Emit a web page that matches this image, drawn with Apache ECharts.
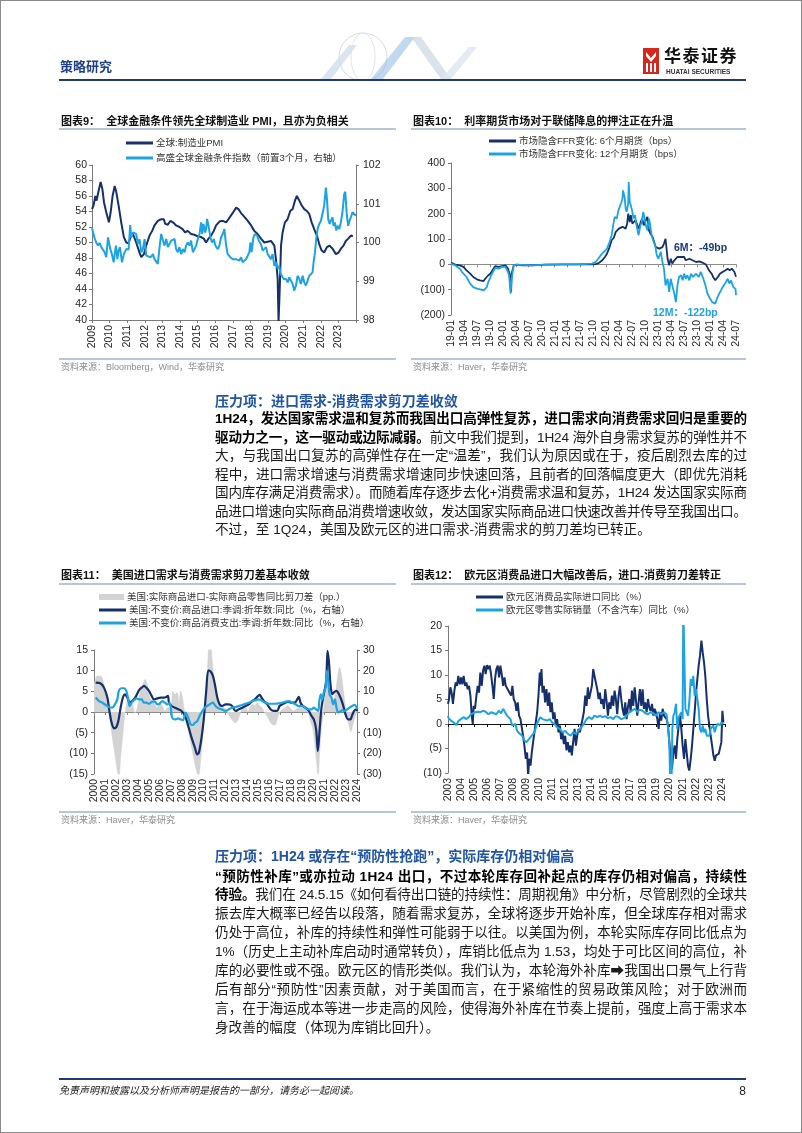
<!DOCTYPE html>
<html><head><meta charset="utf-8">
<script src="https://cdn.jsdelivr.net/npm/echarts/dist/echarts.min.js"></script>
<style>
html,body{margin:0;padding:0;background:#fff;}
#page{position:relative;width:802px;height:1133px;overflow:hidden;box-sizing:border-box;border:1px solid #8a8a8a;font-family:"Liberation Sans","Noto Sans CJK SC","DejaVu Sans",sans-serif;}
#chart{position:absolute;left:0;top:0;width:802px;height:1133px;}
.abs{position:absolute;white-space:nowrap;}
.ttl{font-size:11px;font-weight:bold;color:#111;line-height:14px;}
.rule{position:absolute;height:1.5px;background:#b7c5da;}
.src{font-size:9px;color:#8c8c8c;line-height:12px;}
.hd{font-size:14px;font-weight:bold;color:#1f54a6;line-height:18px;}
.jl{position:absolute;left:214px;width:532px;font-size:13.6px;line-height:18.5px;color:#1a1a1a;white-space:nowrap;}
.jl b{color:#000;}
</style></head>
<body>
<div id="page">
<div id="chart"></div>

<!-- header -->
<svg class="abs" style="left:300px;top:30px" width="220" height="50">
 <circle cx="62" cy="26" r="24" fill="none" stroke="#d5dbe3" stroke-width="1"/>
 <ellipse cx="62" cy="26" rx="12" ry="24" fill="none" stroke="#e0e5ec" stroke-width="1"/>
 <polygon points="20,48 48,14 56,14 30,48" fill="#cfdff0" opacity="0.8"/>
 <polygon points="70,48 104,6 114,6 82,48" fill="#8fb8e2" opacity="0.55"/>
 <polygon points="110,6 120,6 150,48 140,48" fill="#c2d0e0" opacity="0.6"/>
 <polygon points="140,48 168,16 176,16 150,48" fill="#dfe6ee" opacity="0.8"/>
</svg>
<div class="abs" style="left:59px;top:57px;font-size:13px;font-weight:bold;color:#1f3f86;line-height:18px;">策略研究</div>
<svg class="abs" style="left:642px;top:47px" width="16" height="26">
 <rect x="0" y="0" width="16" height="26" fill="#d7261e"/>
 <polygon points="3,4 8,10 13,4 13,8 8,14 3,8" fill="#fff"/>
 <rect x="3" y="15" width="2" height="9" fill="#fff"/><rect x="7" y="15" width="2" height="9" fill="#fff"/><rect x="11" y="15" width="2" height="9" fill="#fff"/>
</svg>
<div class="abs" style="left:663px;top:46px;font-size:17px;font-weight:bold;color:#111;letter-spacing:1.5px;line-height:20px;">华泰证券</div>
<div class="abs" style="left:665px;top:67px;font-size:6.5px;font-weight:bold;color:#333;line-height:8px;">HUATAI SECURITIES</div>
<div class="abs" style="left:58px;top:78px;width:687px;height:2px;background:#1f3a70;"></div>

<!-- chart titles / rules / sources -->
<div class="abs ttl" style="left:60px;top:113px;">图表9：&nbsp;&nbsp;全球金融条件领先全球制造业 PMI，且亦为负相关</div>
<div class="rule" style="left:58px;top:127px;width:337px;"></div>
<div class="abs ttl" style="left:412px;top:113px;">图表10：&nbsp;&nbsp;利率期货市场对于联储降息的押注正在升温</div>
<div class="rule" style="left:410px;top:127px;width:335px;"></div>
<div class="rule" style="left:58px;top:357px;width:337px;"></div>
<div class="abs src" style="left:60px;top:360px;">资料来源：Bloomberg，Wind，华泰研究</div>
<div class="rule" style="left:410px;top:357px;width:335px;"></div>
<div class="abs src" style="left:412px;top:360px;">资料来源：Haver，华泰研究</div>

<div class="abs ttl" style="left:60px;top:567px;">图表11：&nbsp;&nbsp;美国进口需求与消费需求剪刀差基本收敛</div>
<div class="rule" style="left:58px;top:582px;width:337px;"></div>
<div class="abs ttl" style="left:412px;top:567px;">图表12：&nbsp;&nbsp;欧元区消费品进口大幅改善后，进口-消费剪刀差转正</div>
<div class="rule" style="left:410px;top:582px;width:335px;"></div>
<div class="rule" style="left:58px;top:810px;width:337px;"></div>
<div class="abs src" style="left:60px;top:813px;">资料来源：Haver，华泰研究</div>
<div class="rule" style="left:410px;top:810px;width:335px;"></div>
<div class="abs src" style="left:412px;top:813px;">资料来源：Haver，华泰研究</div>

<!-- paragraph 1 -->
<div class="abs hd" style="left:214px;top:391px;">压力项：进口需求-消费需求剪刀差收敛</div>
<div class="jl j" style="top:409px;"><span class="t"><b>1H24，发达国家需求温和复苏而我国出口高弹性复苏，进口需求向消费需求回归是重要的</b></span></div>
<div class="jl j" style="top:427.5px;"><span class="t"><b>驱动力之一，这一驱动或边际减弱。</b>前文中我们提到，1H24 海外自身需求复苏的弹性并不</span></div>
<div class="jl j" style="top:446px;"><span class="t">大，与我国出口复苏的高弹性存在一定“温差”，我们认为原因或在于，疫后剧烈去库的过</span></div>
<div class="jl j" style="top:464.5px;"><span class="t">程中，进口需求增速与消费需求增速同步快速回落，且前者的回落幅度更大（即优先消耗</span></div>
<div class="jl j" style="top:483px;"><span class="t">国内库存满足消费需求）。而随着库存逐步去化+消费需求温和复苏，1H24 发达国家实际商</span></div>
<div class="jl j" style="top:501.5px;"><span class="t">品进口增速向实际商品消费增速收敛，发达国家实际商品进口快速改善并传导至我国出口。</span></div>
<div class="jl" style="top:520px;"><span class="t">不过，至 1Q24，美国及欧元区的进口需求-消费需求的剪刀差均已转正。</span></div>

<!-- paragraph 2 -->
<div class="abs hd" style="left:214px;top:846px;">压力项：1H24 或存在“预防性抢跑”，实际库存仍相对偏高</div>
<div class="jl j" style="top:866.5px;"><span class="t"><b>“预防性补库”或亦拉动 1H24 出口，不过本轮库存回补起点的库存仍相对偏高，持续性</b></span></div>
<div class="jl j" style="top:885.4px;"><span class="t"><b>待验。</b>我们在 24.5.15《如何看待出口链的持续性：周期视角》中分析，尽管剧烈的全球共</span></div>
<div class="jl j" style="top:904.3px;"><span class="t">振去库大概率已经告以段落，随着需求复苏，全球将逐步开始补库，但全球库存相对需求</span></div>
<div class="jl j" style="top:923.2px;"><span class="t">仍处于高位，补库的持续性和弹性可能弱于以往。以美国为例，本轮实际库存同比低点为</span></div>
<div class="jl j" style="top:942.1px;"><span class="t">1%（历史上主动补库启动时通常转负），库销比低点为 1.53，均处于可比区间的高位，补</span></div>
<div class="jl j" style="top:961px;"><span class="t">库的必要性或不强。欧元区的情形类似。我们认为，本轮海外补库➡我国出口景气上行背</span></div>
<div class="jl j" style="top:979.9px;"><span class="t">后有部分“预防性”因素贡献，对于美国而言，在于紧缩性的贸易政策风险；对于欧洲而</span></div>
<div class="jl j" style="top:998.8px;"><span class="t">言，在于海运成本等进一步走高的风险，使得海外补库在节奏上提前，强度上高于需求本</span></div>
<div class="jl" style="top:1017.7px;"><span class="t">身改善的幅度（体现为库销比回升）。</span></div>

<!-- footer -->
<div class="abs" style="left:58px;top:1077px;width:687px;height:2px;background:#1f3a70;"></div>
<div class="abs" style="left:58px;top:1083px;font-size:10px;font-style:italic;color:#222;line-height:14px;">免责声明和披露以及分析师声明是报告的一部分，请务必一起阅读。</div>
<div class="abs" style="left:735px;top:1082px;width:10px;text-align:right;font-size:12px;color:#222;line-height:16px;">8</div>
</div>

<script>
// ---------- Chart 9: global PMI vs GS financial conditions (x = decimal year) ----------
const pmi = [[2009.00,54.3],[2009.09,54.8],[2009.19,56.0],[2009.26,55.4],[2009.38,56.7],[2009.49,57.8],[2009.59,56.9],[2009.68,55.2],[2009.81,53.9],[2009.96,52.6],[2010.06,53.9],[2010.17,56.0],[2010.29,57.3],[2010.38,56.5],[2010.51,54.8],[2010.66,52.6],[2010.81,50.7],[2010.95,50.0],[2011.08,49.9],[2011.19,50.7],[2011.33,51.1],[2011.51,50.0],[2011.70,48.7],[2011.80,48.1],[2011.95,48.5],[2012.08,49.6],[2012.27,50.9],[2012.42,51.5],[2012.55,52.2],[2012.74,52.8],[2012.93,53.0],[2013.08,53.0],[2013.16,52.4],[2013.31,52.3],[2013.46,52.8],[2013.65,52.5],[2013.78,52.2],[2013.97,52.0],[2014.16,51.7],[2014.29,51.3],[2014.44,51.5],[2014.63,51.1],[2014.82,51.0],[2015.01,50.8],[2015.20,50.7],[2015.35,50.5],[2015.48,50.0],[2015.62,50.5],[2015.77,50.9],[2015.92,51.5],[2016.05,52.2],[2016.24,52.7],[2016.43,52.8],[2016.62,52.6],[2016.75,53.0],[2016.90,53.5],[2017.05,54.0],[2017.19,54.5],[2017.32,54.3],[2017.47,53.8],[2017.66,53.3],[2017.85,52.8],[2018.04,52.2],[2018.22,51.5],[2018.41,51.1],[2018.60,50.5],[2018.79,50.0],[2018.98,50.1],[2019.17,50.2],[2019.36,49.6],[2019.45,47.9],[2019.55,45.3],[2019.60,39.8],[2019.66,43.6],[2019.74,49.6],[2019.83,51.3],[2019.96,52.6],[2020.11,53.0],[2020.27,54.1],[2020.40,54.3],[2020.53,55.4],[2020.64,56.0],[2020.78,55.4],[2020.91,54.8],[2021.06,54.3],[2021.19,54.1],[2021.34,53.7],[2021.48,52.6],[2021.63,51.7],[2021.78,50.9],[2021.91,49.8],[2022.04,49.0],[2022.19,48.7],[2022.35,49.4],[2022.50,49.6],[2022.67,49.2],[2022.86,48.5],[2023.01,48.7],[2023.14,49.2],[2023.29,49.6],[2023.42,50.2],[2023.56,50.5],[2023.71,50.9],[2023.82,50.8]];
const gsfci = [[2009.00,100.37],[2009.06,100.33],[2009.15,100.11],[2009.25,99.99],[2009.34,99.92],[2009.43,99.99],[2009.53,99.88],[2009.62,99.92],[2009.72,99.75],[2009.81,99.62],[2009.91,100.13],[2009.96,100.18],[2010.04,99.83],[2010.13,99.70],[2010.23,99.49],[2010.29,99.70],[2010.36,99.92],[2010.44,99.57],[2010.51,99.79],[2010.59,99.88],[2010.70,99.49],[2010.81,99.70],[2010.95,99.83],[2011.08,99.82],[2011.17,100.45],[2011.23,100.13],[2011.33,100.26],[2011.42,100.28],[2011.51,100.22],[2011.61,99.96],[2011.70,100.09],[2011.80,99.75],[2011.89,99.83],[2011.99,100.09],[2012.08,99.66],[2012.18,99.70],[2012.33,99.62],[2012.46,99.70],[2012.55,99.57],[2012.65,99.62],[2012.74,99.45],[2012.84,99.88],[2012.93,100.22],[2013.03,100.05],[2013.12,99.92],[2013.22,100.09],[2013.31,99.88],[2013.40,99.92],[2013.50,100.05],[2013.59,100.00],[2013.69,100.09],[2013.78,99.83],[2013.88,99.75],[2013.97,99.88],[2014.07,99.70],[2014.16,99.83],[2014.26,99.75],[2014.35,99.92],[2014.44,100.00],[2014.54,99.92],[2014.63,100.05],[2014.73,99.75],[2014.82,99.83],[2014.92,99.92],[2015.01,100.09],[2015.11,100.22],[2015.20,100.52],[2015.26,100.22],[2015.33,100.48],[2015.43,100.26],[2015.48,100.35],[2015.54,100.61],[2015.62,100.43],[2015.73,100.13],[2015.82,100.00],[2015.92,100.09],[2016.01,99.92],[2016.15,99.83],[2016.24,99.92],[2016.33,100.13],[2016.43,100.22],[2016.52,100.35],[2016.62,99.92],[2016.71,99.70],[2016.86,99.62],[2017.00,99.57],[2017.09,99.62],[2017.19,99.57],[2017.28,99.59],[2017.37,99.53],[2017.47,99.62],[2017.56,99.49],[2017.66,99.45],[2017.75,99.57],[2017.85,99.66],[2017.94,99.75],[2018.00,100.00],[2018.07,99.75],[2018.17,100.13],[2018.26,100.22],[2018.38,100.18],[2018.47,100.05],[2018.60,99.96],[2018.70,99.79],[2018.79,99.75],[2018.89,99.88],[2018.98,99.70],[2019.08,99.75],[2019.17,99.57],[2019.26,99.70],[2019.36,99.40],[2019.45,99.49],[2019.55,99.32],[2019.64,99.40],[2019.70,99.23],[2019.78,99.14],[2019.89,99.06],[2020.02,99.06],[2020.12,98.97],[2020.21,99.10],[2020.30,99.06],[2020.40,98.93],[2020.49,98.76],[2020.59,98.89],[2020.68,99.14],[2020.78,99.06],[2020.87,98.93],[2020.97,99.14],[2021.06,98.97],[2021.15,98.89],[2021.25,99.01],[2021.34,99.14],[2021.44,99.13],[2021.53,99.23],[2021.59,99.49],[2021.67,99.75],[2021.74,100.09],[2021.82,100.35],[2021.91,100.48],[2022.01,100.56],[2022.10,100.52],[2022.19,100.95],[2022.29,101.42],[2022.35,101.12],[2022.42,100.61],[2022.50,100.48],[2022.57,100.56],[2022.67,100.65],[2022.72,100.43],[2022.80,100.52],[2022.88,100.31],[2022.95,100.43],[2023.05,100.35],[2023.14,100.52],[2023.23,100.78],[2023.33,101.25],[2023.39,101.31],[2023.48,100.69],[2023.56,100.43],[2023.63,100.56],[2023.71,100.65],[2023.80,100.78],[2023.90,100.74],[2024.00,100.69]];

// ---------- Chart 10: implied FFR change, bps ----------
const ffr6m = [[2019.00,7],[2019.08,-1],[2019.17,-4],[2019.24,-10],[2019.30,-24],[2019.37,-37],[2019.43,-50],[2019.50,-59],[2019.56,-63],[2019.63,-66],[2019.66,-57],[2019.69,-59],[2019.72,-43],[2019.76,-37],[2019.82,-17],[2019.85,-7],[2019.92,-10],[2019.98,-7],[2020.05,-4],[2020.10,-17],[2020.13,-37],[2020.16,-109],[2020.17,-37],[2020.21,-4],[2020.27,-1],[2020.37,-4],[2020.56,-4],[2020.82,-1],[2021.14,0],[2021.47,0],[2021.72,0],[2021.79,1],[2021.85,5],[2021.92,16],[2021.97,29],[2022.01,42],[2022.06,68],[2022.10,95],[2022.14,104],[2022.18,128],[2022.21,121],[2022.24,141],[2022.27,134],[2022.31,148],[2022.34,154],[2022.37,141],[2022.40,161],[2022.42,200],[2022.45,167],[2022.47,194],[2022.50,161],[2022.53,154],[2022.56,174],[2022.60,154],[2022.63,141],[2022.66,167],[2022.69,180],[2022.72,154],[2022.76,174],[2022.79,187],[2022.82,134],[2022.85,121],[2022.89,108],[2022.92,101],[2022.95,68],[2022.98,75],[2023.02,62],[2023.05,55],[2023.08,68],[2023.11,82],[2023.14,101],[2023.16,108],[2023.18,22],[2023.21,-4],[2023.24,22],[2023.27,3],[2023.31,16],[2023.34,22],[2023.37,29],[2023.40,22],[2023.44,29],[2023.47,36],[2023.50,29],[2023.53,16],[2023.60,22],[2023.66,16],[2023.73,9],[2023.79,12],[2023.85,7],[2023.92,-1],[2023.98,-24],[2024.03,-37],[2024.06,-50],[2024.10,-63],[2024.15,-50],[2024.19,-37],[2024.24,-30],[2024.29,-24],[2024.34,-17],[2024.38,-24],[2024.42,-17],[2024.47,-30],[2024.50,-49]];
const ffr12m = [[2019.00,3],[2019.08,-4],[2019.17,-17],[2019.21,-30],[2019.24,-24],[2019.30,-50],[2019.37,-76],[2019.43,-90],[2019.50,-96],[2019.56,-99],[2019.63,-103],[2019.66,-109],[2019.69,-90],[2019.72,-70],[2019.79,-37],[2019.85,-15],[2019.92,-17],[2019.98,-10],[2020.05,-10],[2020.10,-30],[2020.12,-43],[2020.15,-116],[2020.17,-57],[2020.21,-4],[2020.27,-1],[2020.56,-4],[2020.82,-1],[2021.47,0],[2021.72,3],[2021.79,9],[2021.84,22],[2021.89,36],[2021.95,49],[2022.01,62],[2022.06,88],[2022.10,115],[2022.13,154],[2022.16,187],[2022.20,181],[2022.23,213],[2022.25,207],[2022.29,246],[2022.31,260],[2022.32,292],[2022.35,266],[2022.37,220],[2022.39,207],[2022.42,240],[2022.43,325],[2022.45,246],[2022.47,233],[2022.50,207],[2022.52,181],[2022.55,194],[2022.58,154],[2022.62,115],[2022.65,148],[2022.68,167],[2022.71,207],[2022.73,187],[2022.76,154],[2022.79,134],[2022.82,181],[2022.84,161],[2022.87,115],[2022.90,95],[2022.94,75],[2022.97,36],[2023.00,22],[2023.05,49],[2023.08,9],[2023.11,-17],[2023.14,-83],[2023.18,-57],[2023.21,-109],[2023.24,-57],[2023.27,-83],[2023.31,-116],[2023.34,-149],[2023.37,-83],[2023.40,-50],[2023.44,-43],[2023.47,-63],[2023.50,-37],[2023.53,-57],[2023.56,-43],[2023.60,-63],[2023.63,-37],[2023.67,-50],[2023.73,-37],[2023.78,-50],[2023.82,-30],[2023.87,-57],[2023.91,-83],[2023.95,-116],[2024.00,-136],[2024.04,-149],[2024.07,-142],[2024.10,-155],[2024.13,-136],[2024.16,-122],[2024.21,-103],[2024.24,-90],[2024.29,-76],[2024.34,-57],[2024.37,-76],[2024.40,-63],[2024.45,-90],[2024.49,-96],[2024.50,-122]];

// ---------- Chart 11: US import vs consumption ----------
const usGap = [[2000.00,6.7],[2000.30,8.7],[2000.61,8.7],[2000.91,6.7],[2001.22,3.1],[2001.43,-1.4],[2001.67,-6.2],[2001.91,-10.3],[2002.13,-14.3],[2002.28,-16],[2002.43,-11.0],[2002.64,-5.4],[2002.83,-0.2],[2003.04,2.7],[2003.25,3.1],[2003.50,1.9],[2003.74,-0.2],[2003.95,1.0],[2004.16,4.3],[2004.41,6.3],[2004.65,7.9],[2004.86,6.7],[2005.08,3.5],[2005.32,2.7],[2005.56,1.9],[2005.78,1.0],[2005.99,2.3],[2006.23,1.5],[2006.47,0.2],[2006.69,1.0],[2006.99,1.0],[2007.20,5.1],[2007.39,4.3],[2007.60,4.7],[2007.75,2.3],[2007.90,5.1],[2008.05,3.9],[2008.21,1.0],[2008.42,-1.8],[2008.66,-5.4],[2008.91,-8.6],[2009.12,-11.5],[2009.33,-13.9],[2009.51,-16],[2009.73,-11.9],[2009.94,-5.4],[2010.12,1.0],[2010.33,8.3],[2010.49,16],[2010.64,16],[2010.79,12.4],[2010.94,8.3],[2011.16,4.3],[2011.40,2.3],[2011.64,1.5],[2011.85,1.0],[2012.07,0.6],[2012.25,-0.6],[2012.46,-1.4],[2012.67,-2.2],[2012.92,-2.6],[2013.16,-1.8],[2013.37,-0.2],[2013.59,1.5],[2013.83,1.0],[2014.07,0.2],[2014.29,1.5],[2014.50,1.9],[2014.68,1.5],[2014.89,2.3],[2015.11,1.5],[2015.35,1.0],[2015.59,-0.2],[2015.81,-1.0],[2016.02,-2.2],[2016.26,-3.0],[2016.50,-3.2],[2016.72,-1.8],[2016.93,-0.2],[2017.17,0.6],[2017.42,1.0],[2017.66,1.5],[2017.93,1.0],[2018.15,0.2],[2018.39,0.6],[2018.63,1.0],[2018.85,1.9],[2019.06,1.5],[2019.30,0.6],[2019.54,-0.2],[2019.76,-2.2],[2019.97,-4.2],[2020.15,-7.8],[2020.33,-12.7],[2020.46,-16],[2020.58,-10.3],[2020.76,-3.8],[2020.97,1.0],[2021.13,6.7],[2021.28,12.4],[2021.43,9.9],[2021.58,5.9],[2021.73,3.5],[2021.88,2.7],[2022.10,5.9],[2022.28,9.5],[2022.40,10.8],[2022.58,9.1],[2022.80,4.3],[2023.01,0.2],[2023.25,-3.0],[2023.45,-4.8],[2023.62,-3.0],[2023.80,-1.4],[2024.01,0.2]];
const usImport = [[2000.15,14.2],[2000.61,13.8],[2000.91,11.8],[2001.22,7.0],[2001.43,-0.3],[2001.61,-5.2],[2001.82,-7.9],[2002.04,-7.3],[2002.22,-4.4],[2002.43,2.1],[2002.64,7.0],[2002.83,8.6],[2003.04,7.0],[2003.25,4.5],[2003.50,5.3],[2003.80,7.3],[2004.10,10.5],[2004.35,11.8],[2004.56,12.6],[2004.77,11.8],[2005.02,10.2],[2005.26,7.8],[2005.47,6.1],[2005.78,6.6],[2006.08,7.0],[2006.38,7.0],[2006.60,7.3],[2006.75,7.8],[2006.84,4.5],[2007.08,2.9],[2007.39,2.1],[2007.69,1.3],[2007.99,0.5],[2008.30,-1.9],[2008.60,-6.8],[2008.91,-12.5],[2009.21,-17.3],[2009.42,-20.5],[2009.57,-19.7],[2009.81,-12.5],[2010.03,-2.8],[2010.24,10.2],[2010.43,20.2],[2010.64,19.6],[2010.85,17.5],[2011.03,13.4],[2011.25,7.0],[2011.46,3.7],[2011.70,2.9],[2012.01,3.7],[2012.31,3.7],[2012.61,2.9],[2012.92,0.5],[2013.22,1.3],[2013.53,2.1],[2013.83,2.9],[2014.13,3.7],[2014.44,5.3],[2014.68,6.1],[2014.89,7.3],[2015.11,8.3],[2015.29,7.0],[2015.50,5.3],[2015.81,3.7],[2016.11,1.3],[2016.41,0.5],[2016.72,0.5],[2016.93,2.9],[2017.17,3.7],[2017.48,4.5],[2017.72,5.0],[2018.02,4.5],[2018.33,4.5],[2018.54,6.1],[2018.69,7.3],[2018.85,4.5],[2019.06,2.9],[2019.30,2.1],[2019.60,0.5],[2019.85,-1.9],[2020.06,-3.6],[2020.27,-8.4],[2020.43,-18.9],[2020.58,-9.2],[2020.76,2.1],[2020.97,8.6],[2021.19,15.0],[2021.31,29.6],[2021.43,24.8],[2021.58,13.4],[2021.74,8.6],[2021.88,9.4],[2022.10,10.2],[2022.28,9.4],[2022.49,7.0],[2022.71,3.7],[2022.95,-1.1],[2023.19,-3.6],[2023.40,-3.6],[2023.56,-1.5],[2023.74,0.5],[2023.92,1.3],[2024.04,0.5]];
const usConsume = [[2000.15,7.0],[2000.46,5.3],[2000.76,4.5],[2001.06,3.4],[2001.37,2.4],[2001.67,2.1],[2001.91,3.7],[2002.13,6.1],[2002.28,10.5],[2002.52,11.5],[2002.74,11.5],[2002.95,10.2],[2003.13,6.1],[2003.25,2.9],[2003.43,4.5],[2003.65,5.7],[2003.86,6.6],[2004.10,6.1],[2004.35,6.1],[2004.56,4.5],[2004.77,4.5],[2005.02,4.0],[2005.32,5.0],[2005.56,5.0],[2005.78,3.7],[2005.99,4.0],[2006.23,5.3],[2006.47,4.5],[2006.69,3.7],[2006.90,4.5],[2007.14,-2.8],[2007.39,-3.6],[2007.69,-3.1],[2007.90,-3.6],[2008.12,-4.0],[2008.36,-0.3],[2008.60,-2.8],[2008.81,-6.0],[2009.03,-6.3],[2009.21,-5.2],[2009.42,-4.4],[2009.64,-1.9],[2009.88,0.5],[2010.12,2.1],[2010.33,2.9],[2010.64,4.0],[2010.85,4.5],[2011.09,2.9],[2011.34,1.8],[2011.64,1.3],[2012.01,0.5],[2012.31,1.3],[2012.61,2.1],[2012.92,2.4],[2013.22,2.9],[2013.53,3.4],[2013.83,4.0],[2014.13,4.5],[2014.44,5.3],[2014.74,5.7],[2015.05,6.1],[2015.35,5.3],[2015.65,4.5],[2015.96,4.0],[2016.26,4.0],[2016.57,4.0],[2016.87,4.2],[2017.17,4.5],[2017.48,5.0],[2017.78,5.3],[2018.09,4.5],[2018.39,3.7],[2018.69,2.9],[2019.00,2.9],[2019.30,2.1],[2019.60,1.3],[2019.85,1.3],[2020.06,2.1],[2020.27,1.3],[2020.46,0.5],[2020.58,6.1],[2020.70,8.6],[2020.82,6.1],[2020.97,9.4],[2021.12,11.8],[2021.25,19.9],[2021.37,15.0],[2021.49,8.6],[2021.67,7.0],[2021.82,3.7],[2021.98,6.1],[2022.13,2.1],[2022.28,-0.3],[2022.43,0.2],[2022.64,0.8],[2022.89,0.5],[2023.10,1.3],[2023.31,2.1],[2023.56,2.9],[2023.77,3.4],[2023.95,2.4],[2024.04,1.3]];

// ---------- Chart 12: euro area imports vs retail ----------
const euImport = [[2003.00,4.1],[2003.08,5.1],[2003.18,7.5],[2003.28,6.4],[2003.38,4.1],[2003.49,6.8],[2003.59,8.5],[2003.69,7.8],[2003.79,9.8],[2003.90,8.1],[2004.00,9.5],[2004.10,8.1],[2004.20,9.8],[2004.31,7.8],[2004.41,8.5],[2004.51,7.1],[2004.61,7.8],[2004.72,5.8],[2004.82,1.7],[2004.90,0.0],[2004.97,3.7],[2005.07,3.1],[2005.18,5.8],[2005.28,7.8],[2005.38,6.4],[2005.48,10.5],[2005.59,7.8],[2005.69,10.9],[2005.79,11.9],[2005.89,10.2],[2005.99,12.0],[2006.10,11.2],[2006.20,11.9],[2006.30,10.2],[2006.41,7.8],[2006.51,5.1],[2006.61,9.2],[2006.71,11.2],[2006.82,11.9],[2006.92,9.5],[2007.02,11.9],[2007.12,10.2],[2007.23,7.8],[2007.33,9.5],[2007.43,7.8],[2007.53,8.1],[2007.64,6.8],[2007.74,7.1],[2007.84,5.8],[2007.94,7.8],[2008.04,5.1],[2008.15,4.4],[2008.25,2.7],[2008.35,4.4],[2008.45,1.7],[2008.56,1.0],[2008.66,-0.7],[2008.76,-2.4],[2008.86,-4.4],[2008.97,-7.1],[2009.07,-5.8],[2009.15,-10.8],[2009.22,-7.1],[2009.33,-8.5],[2009.43,-5.8],[2009.53,-3.7],[2009.63,-1.7],[2009.73,0.3],[2009.84,2.4],[2009.94,5.8],[2010.04,10.5],[2010.09,7.8],[2010.17,11.2],[2010.25,6.4],[2010.35,7.8],[2010.45,4.4],[2010.55,7.1],[2010.66,3.7],[2010.76,6.4],[2010.86,2.4],[2010.96,4.4],[2011.07,1.0],[2011.17,2.4],[2011.27,-0.3],[2011.37,1.0],[2011.48,-1.7],[2011.58,-0.3],[2011.68,-3.1],[2011.78,-1.7],[2011.89,-4.1],[2011.99,-2.4],[2012.09,-5.4],[2012.19,-3.7],[2012.30,-5.8],[2012.40,-4.4],[2012.50,-6.4],[2012.60,-3.7],[2012.71,-1.0],[2012.81,-4.4],[2012.91,-2.4],[2013.01,-1.0],[2013.12,-1.7],[2013.22,-0.3],[2013.32,1.0],[2013.42,2.4],[2013.53,5.8],[2013.63,3.7],[2013.73,7.5],[2013.83,5.1],[2013.93,6.4],[2014.04,7.8],[2014.14,11.2],[2014.24,9.8],[2014.34,8.5],[2014.45,7.1],[2014.55,5.1],[2014.65,6.4],[2014.75,4.1],[2014.86,5.1],[2014.96,3.1],[2015.06,7.1],[2015.16,4.8],[2015.27,1.7],[2015.37,4.4],[2015.47,3.1],[2015.57,5.8],[2015.68,3.7],[2015.78,6.8],[2015.88,5.1],[2015.98,2.0],[2016.09,5.8],[2016.19,7.8],[2016.29,5.1],[2016.39,3.1],[2016.50,1.7],[2016.60,4.4],[2016.70,1.0],[2016.80,3.4],[2016.91,5.1],[2017.01,2.4],[2017.11,6.8],[2017.21,3.7],[2017.32,7.5],[2017.42,4.8],[2017.52,1.7],[2017.62,4.4],[2017.72,7.1],[2017.83,3.7],[2017.93,7.1],[2018.03,3.1],[2018.13,4.4],[2018.24,2.4],[2018.34,5.1],[2018.44,3.4],[2018.54,2.7],[2018.65,4.1],[2018.75,1.7],[2018.85,3.1],[2018.95,2.4],[2019.06,1.0],[2019.16,-1.0],[2019.26,2.4],[2019.36,0.7],[2019.47,3.1],[2019.57,1.7],[2019.67,2.0],[2019.77,1.0],[2019.88,-0.3],[2019.98,-3.7],[2020.08,-7.1],[2020.18,-9.2],[2020.29,-5.8],[2020.39,-4.4],[2020.49,-7.1],[2020.59,-3.1],[2020.70,-0.3],[2020.80,1.7],[2020.90,-1.0],[2021.00,-4.4],[2021.11,-7.1],[2021.21,-3.1],[2021.31,-5.8],[2021.41,-8.5],[2021.51,-9.5],[2021.62,-7.1],[2021.72,-4.4],[2021.82,-1.0],[2021.92,2.4],[2022.03,6.4],[2022.13,9.2],[2022.23,11.9],[2022.33,13.9],[2022.44,17.0],[2022.54,14.6],[2022.64,12.6],[2022.74,9.8],[2022.85,5.1],[2022.95,1.7],[2023.05,-0.3],[2023.15,-2.4],[2023.26,-4.4],[2023.36,-6.4],[2023.46,-7.5],[2023.56,-6.4],[2023.67,-6.8],[2023.77,-6.1],[2023.87,-6.4],[2023.97,-3.7],[2024.05,2.7],[2024.13,0.3]];
const euRetail = [[2003.00,1.7],[2003.05,1.2],[2003.23,0.7],[2003.44,0.3],[2003.64,-0.2],[2003.82,0.7],[2004.00,1.0],[2004.20,1.4],[2004.41,1.0],[2004.59,1.4],[2004.77,2.0],[2004.92,2.2],[2005.10,2.4],[2005.28,2.5],[2005.48,2.4],[2005.69,2.7],[2005.89,2.5],[2006.10,2.0],[2006.30,2.4],[2006.51,2.2],[2006.71,2.0],[2006.89,2.7],[2007.07,2.2],[2007.23,3.1],[2007.38,2.4],[2007.53,1.7],[2007.66,2.0],[2007.79,1.0],[2007.92,-0.3],[2008.04,-0.7],[2008.17,0.0],[2008.30,-1.4],[2008.51,-2.0],[2008.69,-2.4],[2008.86,-3.4],[2009.02,-3.7],[2009.17,-3.4],[2009.33,-2.7],[2009.48,-2.4],[2009.63,-1.7],[2009.79,-0.3],[2009.94,0.7],[2010.09,1.4],[2010.25,1.0],[2010.40,1.2],[2010.61,0.7],[2010.81,1.0],[2010.99,0.3],[2011.17,0.0],[2011.37,-0.7],[2011.58,-1.0],[2011.78,-1.7],[2011.99,-1.4],[2012.19,-2.0],[2012.40,-2.4],[2012.60,-1.7],[2012.81,-2.0],[2013.01,-1.4],[2013.22,-0.7],[2013.42,0.0],[2013.63,1.0],[2013.83,1.4],[2014.04,1.0],[2014.24,1.7],[2014.45,1.4],[2014.65,1.7],[2014.86,1.4],[2015.06,1.6],[2015.27,1.2],[2015.47,1.4],[2015.68,1.0],[2015.88,1.6],[2016.09,1.4],[2016.29,1.0],[2016.50,1.2],[2016.70,1.7],[2016.91,2.4],[2017.11,2.7],[2017.32,3.1],[2017.52,2.5],[2017.72,2.9],[2017.93,2.7],[2018.13,2.2],[2018.34,2.0],[2018.54,2.4],[2018.75,2.2],[2018.95,1.7],[2019.16,2.4],[2019.36,2.0],[2019.57,2.4],[2019.77,2.0],[2019.88,1.7],[2019.98,-3.7],[2020.06,-14],[2020.13,-16],[2020.21,-1.0],[2020.29,1.7],[2020.39,2.4],[2020.49,4.1],[2020.59,-1.0],[2020.70,1.4],[2020.80,1.0],[2020.90,2.4],[2021.00,1.0],[2021.05,24],[2021.13,24],[2021.21,3.1],[2021.31,2.4],[2021.41,1.7],[2021.51,4.4],[2021.62,9.2],[2021.72,7.8],[2021.82,9.8],[2021.92,5.8],[2022.03,7.1],[2022.13,5.1],[2022.23,3.1],[2022.33,-1.0],[2022.44,-1.7],[2022.54,-0.3],[2022.64,-1.7],[2022.74,-1.0],[2022.85,-2.4],[2022.95,-2.0],[2023.05,-2.4],[2023.15,-1.0],[2023.26,-1.4],[2023.36,-0.3],[2023.46,-1.7],[2023.56,-0.7],[2023.67,0.0],[2023.77,-0.3],[2023.87,-0.2],[2023.97,0.3],[2024.13,0.0]];

// ---------- styling ----------
const DARK = '#15306c', LIGHT = '#1ca3e3', GRAY = '#d3d3d3';
const FONT = '"Liberation Sans","Noto Sans CJK SC",sans-serif';
const LAB = {color:'#262626', fontSize:10.5, fontFamily:FONT};
const AXL = {show:true, lineStyle:{color:'#7a7a7a', width:1}};
const paren = v => v < 0 ? '(' + (-v) + ')' : String(v);
const yearInt = v => Math.abs(v - Math.round(v)) < 1e-6 ? String(Math.round(v)) : '';
const ym = v => {
  const y = Math.floor(v + 1e-6), f = v - y;
  if (Math.abs(f * 4 - Math.round(f * 4)) > 1e-6) return '';
  return String(y).slice(2) + '-' + String(Math.round(f * 12) + 1).padStart(2, '0');
};
function xLab(grid, min, max, interval, fmt){
  return {gridIndex:grid, type:'value', position:'bottom', min, max, interval,
    axisLine:{show:false, onZero:false}, axisTick:{show:false}, splitLine:{show:false},
    axisLabel:Object.assign({rotate:90, margin:5, formatter:fmt, showMaxLabel:true}, LAB)};
}
function xZero(grid, min, max, interval, color){
  return {gridIndex:grid, type:'value', position:'bottom', min, max, interval,
    axisLine:{show:true, onZero:true, lineStyle:{color, width:1}},
    axisTick:{show:true, length:3, lineStyle:{color}}, axisLabel:{show:false}, splitLine:{show:false}};
}
function yAx(grid, pos, min, max, interval, fmt, margin){
  return {gridIndex:grid, type:'value', position:pos, min, max, interval,
    axisLine:AXL, axisTick:{show:true, length:3, lineStyle:{color:'#7a7a7a'}}, splitLine:{show:false},
    axisLabel:Object.assign({formatter:fmt, margin}, LAB)};
}
function line(name, data, color, xi, yi, w){
  return {name, type:'line', data, xAxisIndex:xi, yAxisIndex:yi, color, showSymbol:false, symbol:'none',
    clip:true, lineStyle:{width:w, color}, z:3};
}
function leg(name, left, cy, w, h){
  return {data:[name], left, top:cy - 6, padding:0, icon:'rect', itemWidth:w||27, itemHeight:h||3,
    itemGap:0, selectedMode:false, textStyle:{fontSize:9.5, color:'#333', fontFamily:FONT, lineHeight:12, padding:[0,0,0,-2]}};
}

const names = {
  pmi:'全球:制造业PMI', fci:'高盛全球金融条件指数（前置3个月，右轴）',
  m6:'市场隐含FFR变化: 6个月期货（bps）', m12:'市场隐含FFR变化: 12个月期货（bps）',
  gap:'美国:实际商品进口-实际商品零售同比剪刀差（pp.）',
  imp:'美国:不变价:商品进口:季调:折年数:同比（%，右轴）',
  con:'美国:不变价:商品消费支出:季调:折年数:同比（%，右轴）',
  eimp:'欧元区消费品实际进口同比（%）', eret:'欧元区零售实际销量（不含汽车）同比（%）'
};

const chart = echarts.init(document.getElementById('chart'), null, {renderer:'canvas'});
chart.setOption({
  animation:false,
  textStyle:{fontFamily:FONT},
  grid:[
    {left:91, top:164, width:264, height:155},
    {left:450, top:162, width:285, height:152},
    {left:93, top:649, width:263, height:124},
    {left:447, top:625, width:277, height:147}
  ],
  xAxis:[
    {gridIndex:0, type:'value', position:'bottom', min:2009, max:2024, interval:1,
     axisLine:AXL, axisTick:{show:true, length:3, lineStyle:{color:'#7a7a7a'}}, splitLine:{show:false},
     axisLabel:Object.assign({rotate:90, margin:5, formatter:v => v < 2024 ? String(v) : ''}, LAB)},
    xLab(1, 2019, 2024.5, 0.25, ym),
    xZero(1, 2019, 2024.5, 0.25, '#8c8c8c'),
    xLab(2, 2000, 2024, 1, yearInt),
    xZero(2, 2000, 2024, 1, '#8c8c8c'),
    xLab(3, 2003, 2024.25, 1, yearInt),
    xZero(3, 2003, 2024.25, 1, '#111')
  ],
  yAxis:[
    yAx(0, 'left', 40, 60, 2, v => String(v), 5),
    yAx(0, 'right', 98, 102, 1, v => String(v), 7),
    yAx(1, 'left', -200, 400, 100, paren, 6),
    yAx(2, 'left', -15, 15, 5, paren, 6),
    yAx(2, 'right', -30, 30, 10, paren, 6),
    yAx(3, 'left', -10, 20, 5, paren, 6)
  ],
  legend:[
    leg(names.pmi, 125, 142), leg(names.fci, 125, 157),
    leg(names.m6, 488, 140), leg(names.m12, 488, 153),
    leg(names.gap, 98, 596, 25, 6), leg(names.imp, 98, 609), leg(names.con, 98, 622),
    leg(names.eimp, 475, 596), leg(names.eret, 475, 609)
  ],
  graphic:[
    {type:'text', left:673, top:242, z:10, style:{text:'6M：-49bp', fill:'#1b3a7a', fontSize:10.5, fontWeight:'bold', fontFamily:FONT}},
    {type:'text', left:652, top:307, z:10, style:{text:'12M：-122bp', fill:LIGHT, fontSize:10.5, fontWeight:'bold', fontFamily:FONT}}
  ],
  series:[
    line(names.pmi, pmi, DARK, 0, 0, 2),
    line(names.fci, gsfci, LIGHT, 0, 1, 2),
    line(names.m6, ffr6m, DARK, 1, 2, 1.8),
    line(names.m12, ffr12m, LIGHT, 1, 2, 1.8),
    {name:names.gap, type:'line', data:usGap, xAxisIndex:3, yAxisIndex:3, color:GRAY, showSymbol:false, symbol:'none',
     clip:true, smooth:0.3, lineStyle:{width:0.5, color:GRAY}, areaStyle:{color:GRAY, opacity:1}, z:1},
    Object.assign(line(names.imp, usImport, DARK, 3, 4, 2.2), {smooth:0.3}),
    Object.assign(line(names.con, usConsume, LIGHT, 3, 4, 2.2), {smooth:0.3}),
    line(names.eimp, euImport, DARK, 5, 5, 2),
    line(names.eret, euRetail, LIGHT, 5, 5, 2)
  ]
});

function justify(){
  document.querySelectorAll('.jl.j').forEach(el => {
    el.style.letterSpacing = '0px';
    const sp = el.querySelector('.t');
    const w = sp.getBoundingClientRect().width;
    const n = sp.textContent.length;
    if (n > 1) el.style.letterSpacing = ((el.clientWidth - w) / (n - 1)) + 'px';
  });
}
justify();
if (document.fonts && document.fonts.ready) document.fonts.ready.then(justify);
</script>
</body></html>
